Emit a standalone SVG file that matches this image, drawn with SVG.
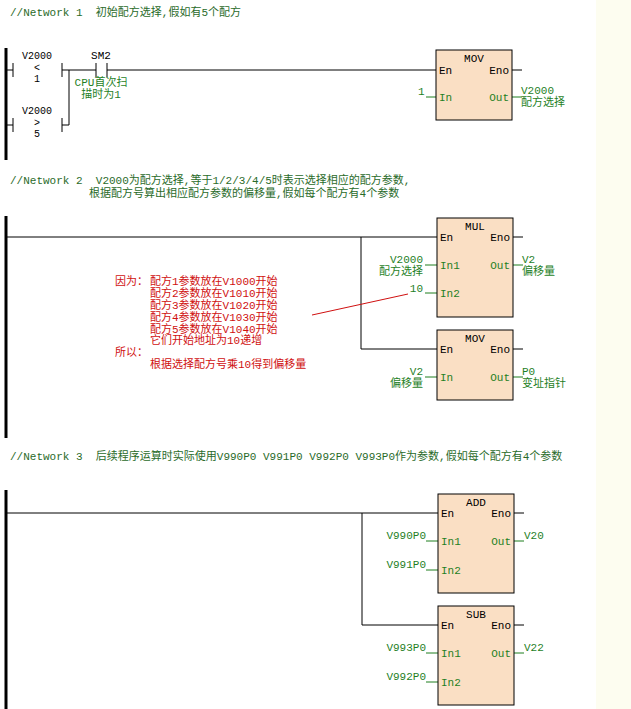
<svg xmlns="http://www.w3.org/2000/svg" width="631" height="709" viewBox="0 0 631 709">
<style>
text{font-family:"Liberation Mono","Noto Sans CJK SC",monospace;font-size:11px}
.h{fill:#2a6b2a}
.g{fill:#1f7f1f}
.k{fill:#000}
.r{fill:#d01010}
.w{stroke:#000;stroke-width:1;fill:none}
.gw{stroke:#1f7f1f;stroke-width:1;fill:none}
.rail{stroke:#000;stroke-width:3}
.box{fill:#fadfc4;stroke:#000;stroke-width:1}
.s{font-size:10px}
</style>
<rect width="631" height="709" fill="#fff"/>
<rect x="596" y="0" width="35" height="709" fill="#fdfdf0"/>
<text class="h" x="10" y="16" xml:space="preserve">//Network 1  初始配方选择,假如有5个配方</text>
<text class="h" x="10" y="184" xml:space="preserve">//Network 2  V2000为配方选择,等于1/2/3/4/5时表示选择相应的配方参数,</text>
<text class="h" x="89" y="197">根据配方号算出相应配方参数的偏移量,假如每个配方有4个参数</text>
<text class="h" x="10" y="460" xml:space="preserve">//Network 3  后续程序运算时实际使用V990P0 V991P0 V992P0 V993P0作为参数,假如每个配方有4个参数</text>
<g id="rails">
<line class="rail" x1="6" y1="48" x2="6" y2="160"/>
<line class="rail" x1="6" y1="216" x2="6" y2="438"/>
<line class="rail" x1="6" y1="490" x2="6" y2="709"/>
</g>
<g id="connectors">
<path class="w" d="M6 70H13M6 125H13M13 63V77M13 118V132M62 63V77M62 118V132M62 70H96M62 125H69V70M96 63V77M107 63V77M107 70H436"/>
<path class="w" d="M512 70H522M6 237H437M361 237V349H437M513 237H523M513 349H523M6 513H438M362 513V625H438M514 513H524M514 625H524"/>
<path class="gw" d="M426 97H436M512 97H522M425 265H437M425 293H437M513 265H523M425 377H437M513 377H523M426 541H438M426 570H438M514 541H524M426 653H438M426 682H438M514 653H524"/>
<line x1="312" y1="315" x2="408" y2="294" stroke="#d01010" stroke-width="1"/>
</g>
<g id="n1-contacts" text-anchor="middle">
<text class="k s" x="37" y="59">V2000</text><text class="k s" x="37" y="71">&lt;</text><text class="k s" x="37" y="82">1</text>
<text class="k s" x="37" y="114">V2000</text><text class="k s" x="37" y="126">&gt;</text><text class="k s" x="37" y="137">5</text>
<text class="k" x="101" y="59">SM2</text>
<text class="g" x="101" y="86">CPU首次扫</text><text class="g" x="101" y="98">描时为1</text>
</g>
<g id="mov1">
<rect class="box" x="436" y="50" width="76" height="70"/>
<text class="k" x="474" y="62" text-anchor="middle">MOV</text>
<text class="k" x="439" y="74">En</text><text class="k" x="509" y="74" text-anchor="end">Eno</text>
<text class="g" x="439" y="101">In</text><text class="g" x="509" y="101" text-anchor="end">Out</text>
<text class="g" x="418" y="95">1</text>
<text class="g" x="521" y="94">V2000</text><text class="g" x="521" y="106">配方选择</text>
</g>
<g id="mul">
<rect class="box" x="437" y="218" width="76" height="99"/>
<text class="k" x="475" y="230" text-anchor="middle">MUL</text>
<text class="k" x="440" y="241">En</text><text class="k" x="510" y="241" text-anchor="end">Eno</text>
<text class="g" x="440" y="269">In1</text><text class="g" x="440" y="297">In2</text><text class="g" x="510" y="269" text-anchor="end">Out</text>
<text class="g" x="423" y="263" text-anchor="end">V2000</text><text class="g" x="423" y="275" text-anchor="end">配方选择</text>
<text class="g" x="423" y="292" text-anchor="end">10</text>
<text class="g" x="522" y="263">V2</text><text class="g" x="522" y="275">偏移量</text>
</g>
<g id="mov2">
<rect class="box" x="437" y="330" width="76" height="70"/>
<text class="k" x="475" y="342" text-anchor="middle">MOV</text>
<text class="k" x="440" y="353">En</text><text class="k" x="510" y="353" text-anchor="end">Eno</text>
<text class="g" x="440" y="381">In</text><text class="g" x="510" y="381" text-anchor="end">Out</text>
<text class="g" x="423" y="375" text-anchor="end">V2</text><text class="g" x="423" y="387" text-anchor="end">偏移量</text>
<text class="g" x="522" y="375">P0</text><text class="g" x="522" y="387">变址指针</text>
</g>
<g id="note">
<text class="r" x="115" y="285">因为：</text>
<text class="r" x="150" y="285">配方1参数放在V1000开始</text>
<text class="r" x="150" y="297">配方2参数放在V1010开始</text>
<text class="r" x="150" y="309">配方3参数放在V1020开始</text>
<text class="r" x="150" y="321">配方4参数放在V1030开始</text>
<text class="r" x="150" y="333">配方5参数放在V1040开始</text>
<text class="r" x="150" y="344">它们开始地址为10递增</text>
<text class="r" x="115" y="356">所以：</text>
<text class="r" x="150" y="368">根据选择配方号乘10得到偏移量</text>
</g>
<g id="add">
<rect class="box" x="438" y="494" width="76" height="99"/>
<text class="k" x="476" y="506" text-anchor="middle">ADD</text>
<text class="k" x="441" y="517">En</text><text class="k" x="511" y="517" text-anchor="end">Eno</text>
<text class="g" x="441" y="545">In1</text><text class="g" x="441" y="574">In2</text><text class="g" x="511" y="545" text-anchor="end">Out</text>
<text class="g" x="426" y="539" text-anchor="end">V990P0</text><text class="g" x="426" y="568" text-anchor="end">V991P0</text>
<text class="g" x="524" y="539">V20</text>
</g>
<g id="sub">
<rect class="box" x="438" y="606" width="76" height="99"/>
<text class="k" x="476" y="618" text-anchor="middle">SUB</text>
<text class="k" x="441" y="629">En</text><text class="k" x="511" y="629" text-anchor="end">Eno</text>
<text class="g" x="441" y="657">In1</text><text class="g" x="441" y="686">In2</text><text class="g" x="511" y="657" text-anchor="end">Out</text>
<text class="g" x="426" y="651" text-anchor="end">V993P0</text><text class="g" x="426" y="680" text-anchor="end">V992P0</text>
<text class="g" x="524" y="651">V22</text>
</g>
</svg>
